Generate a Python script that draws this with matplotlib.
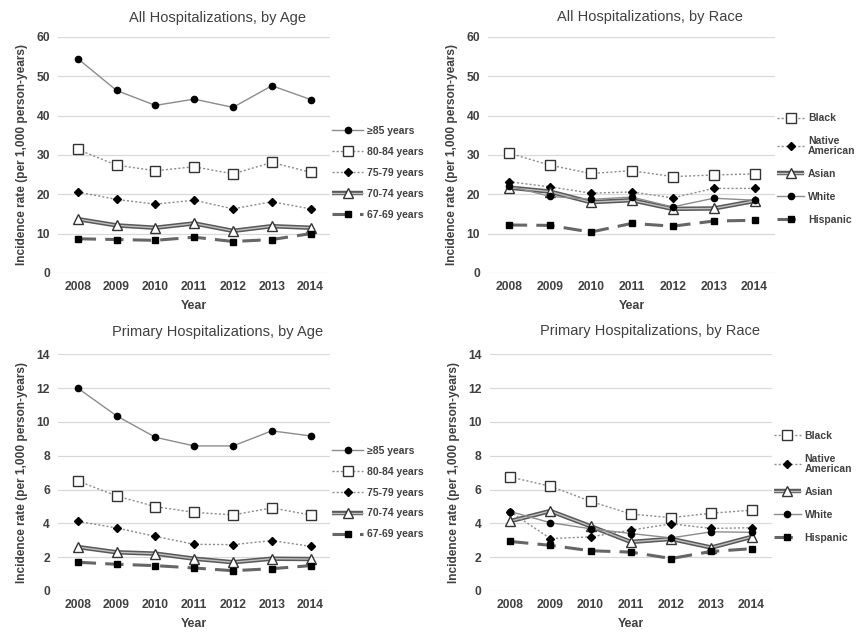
import matplotlib
matplotlib.use("Agg")
import matplotlib.pyplot as plt
from matplotlib.legend_handler import HandlerTuple

plt.rcParams['font.family'] = ['Liberation Sans', 'DejaVu Sans']

years = ["2008", "2009", "2010", "2011", "2012", "2013", "2014"]

age_groups = ["\u226585 years", "80-84 years", "75-79 years", "70-74 years", "67-69 years"]
race_groups = ["Black", "Native\nAmerican", "Asian", "White", "Hispanic"]

# All hospitalizations, by age
all_age_85 = [54.5, 46.4, 42.6, 44.2, 42.1, 47.6, 44.1]
all_age_80 = [31.4, 27.4, 26.0, 27.0, 25.2, 28.1, 25.6]
all_age_75 = [20.6, 18.7, 17.5, 18.5, 16.3, 18.1, 16.3]
all_age_70 = [13.7, 12.1, 11.5, 12.6, 10.7, 11.9, 11.5]
all_age_67 = [8.7, 8.5, 8.3, 9.1, 8.0, 8.5, 10.0]

# All hospitalizations, by race
all_black = [30.5, 27.4, 25.3, 26.0, 24.5, 24.9, 25.2]
all_native = [23.2, 21.9, 20.3, 20.6, 19.1, 21.5, 21.5]
all_asian = [21.7, 20.7, 18.0, 18.5, 16.3, 16.4, 18.3]
all_white = [22.1, 19.5, 18.7, 19.3, 16.8, 19.0, 18.5]
all_hispanic = [12.2, 12.1, 10.4, 12.6, 11.9, 13.2, 13.4]

# Primary hospitalizations, by age
pri_age_85 = [12.0, 10.36, 9.09, 8.58, 8.58, 9.47, 9.17]
pri_age_80 = [6.51, 5.62, 4.99, 4.65, 4.5, 4.91, 4.5]
pri_age_75 = [4.12, 3.73, 3.23, 2.76, 2.74, 2.98, 2.64]
pri_age_70 = [2.6, 2.29, 2.21, 1.91, 1.7, 1.91, 1.89]
pri_age_67 = [1.7, 1.58, 1.5, 1.36, 1.2, 1.32, 1.5]

# Primary hospitalizations, by race
pri_black = [6.74, 6.2, 5.3, 4.55, 4.34, 4.6, 4.78]
pri_native = [4.7, 3.1, 3.2, 3.6, 3.97, 3.7, 3.74]
pri_asian = [4.13, 4.73, 3.83, 2.9, 3.08, 2.57, 3.2]
pri_white = [4.7, 4.04, 3.68, 3.4, 3.14, 3.5, 3.47]
pri_hispanic = [2.93, 2.7, 2.38, 2.3, 1.92, 2.34, 2.5]

TXT = '#404040'
GRID = '#d9d9d9'

# style per line kind: solid-circle, dotted-square, dotted-diamond, double-triangle, dashed-square
def draw_series(ax, x, vals, kind):
    if kind == 'circle':
        h, = ax.plot(x, vals, color='#8c8c8c', lw=1.0, marker='o', ms=4.5,
                     mfc='black', mec='black', zorder=4)
        return h
    if kind == 'square_open':
        h, = ax.plot(x, vals, color='#8c8c8c', lw=1.0, ls=(0, (1.5, 1.5)), marker='s',
                     ms=6.5, mfc='white', mec='#333333', mew=1.0, zorder=4)
        return h
    if kind == 'diamond':
        h, = ax.plot(x, vals, color='#8c8c8c', lw=1.0, ls=(0, (1.5, 1.5)), marker='D',
                     ms=4, mfc='black', mec='black', zorder=4)
        return h
    if kind == 'triangle':
        outer, = ax.plot(x, vals, color='#595959', lw=3.2, zorder=3, solid_capstyle='butt')
        inner, = ax.plot(x, vals, color='#bfbfbf', lw=1.0, marker='^', ms=7.5,
                         mfc='white', mec='#333333', mew=1.0, zorder=4)
        return (outer, inner)
    if kind == 'square_solid':
        h, = ax.plot(x, vals, color='#666666', lw=2.2, ls=(0, (6, 3)), marker='s',
                     ms=5, mfc='black', mec='black', zorder=4)
        return h


def style_axes(ax, ymax, ystep):
    ax.set_xlim(-0.5, len(years) - 0.5)
    ax.set_ylim(0, ymax)
    ax.set_xticks(range(len(years)))
    ax.set_xticklabels(years)
    ax.set_yticks(range(0, ymax + 1, ystep))
    for s in ax.spines.values():
        s.set_visible(False)
    ax.tick_params(length=0, labelsize=8.7, colors=TXT, pad=6)
    for lab in ax.get_xticklabels() + ax.get_yticklabels():
        lab.set_fontweight('bold')
    ax.yaxis.grid(True, color=GRID, lw=0.9)
    ax.set_axisbelow(True)
    ax.set_xlabel("Year", fontsize=9, fontweight='bold', color=TXT, labelpad=5)
    ax.set_ylabel("Incidence rate (per 1,000 person-years)", fontsize=8.6,
                  fontweight='bold', color=TXT, labelpad=6)


fig = plt.figure(figsize=(8.59, 6.35), dpi=100)

panels = [
    ([0.0679, 0.5701, 0.3163, 0.3717], "All Hospitalizations, by Age", 60, 10,
     [all_age_85, all_age_80, all_age_75, all_age_70, all_age_67], age_groups,
     ['circle', 'square_open', 'diamond', 'triangle', 'square_solid'], 0.253, 18, 0.424, 1.05, 3.0),
    ([0.5685, 0.5701, 0.3338, 0.3717], "All Hospitalizations, by Race", 60, 10,
     [all_black, all_native, all_asian, all_white, all_hispanic], race_groups,
     ['square_open', 'diamond', 'triangle', 'circle', 'square_solid'], 0.757, 17, 0.44, 1.25, 2.6),
    ([0.0679, 0.0693, 0.3163, 0.3728], "Primary Hospitalizations, by Age", 14, 2,
     [pri_age_85, pri_age_80, pri_age_75, pri_age_70, pri_age_67], age_groups,
     ['circle', 'square_open', 'diamond', 'triangle', 'square_solid'], 0.253, 332, 0.416, 1.05, 3.0),
    ([0.5704, 0.0693, 0.3280, 0.3728], "Primary Hospitalizations, by Race", 14, 2,
     [pri_black, pri_native, pri_asian, pri_white, pri_hispanic], race_groups,
     ['square_open', 'diamond', 'triangle', 'circle', 'square_solid'], 0.757, 331, 0.44, 1.25, 2.6),
]

for rect, title, ymax, ystep, series, labels, kinds, tx, ty, ly, lsp, hlen in panels:
    ax = fig.add_axes(rect)
    x = list(range(len(years)))
    handles = []
    for vals, kind in zip(series, kinds):
        handles.append(draw_series(ax, x, vals, kind))
    style_axes(ax, ymax, ystep)
    fig.text(tx, 1 - ty / 635, title, ha='center', va='center', fontsize=10.5, color=TXT)
    leg = ax.legend(handles, labels, loc='center left', bbox_to_anchor=(1.0, ly),
                    frameon=False, fontsize=7.5, handlelength=hlen, handletextpad=0.35,
                    labelspacing=lsp, borderaxespad=0.1, borderpad=0.1,
                    handler_map={tuple: HandlerTuple(ndivide=1)})
    for t in leg.get_texts():
        t.set_color(TXT)
        t.set_fontweight('bold')
        t.set_linespacing(0.95)

fig.savefig("out.png", dpi=100)
